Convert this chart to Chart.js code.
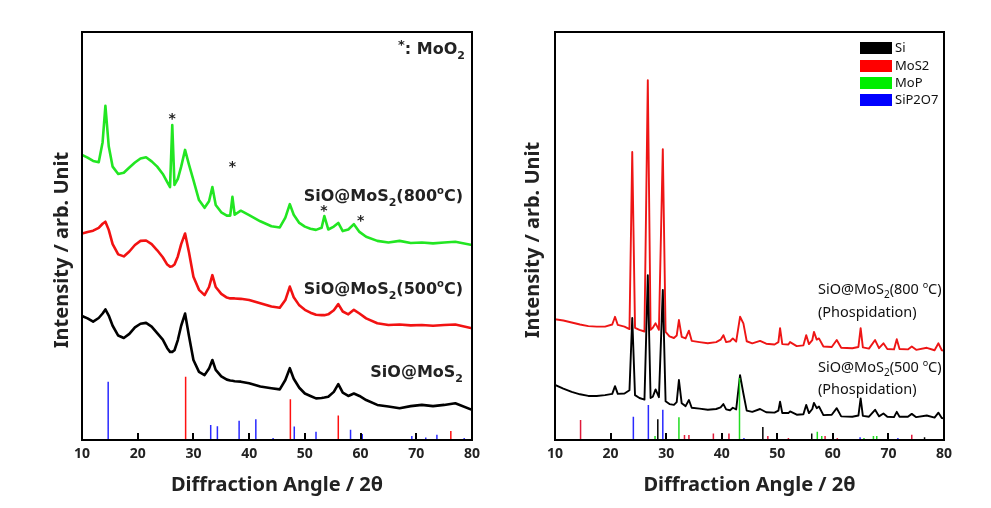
<!DOCTYPE html>
<html><head><meta charset="utf-8">
<script src="https://cdn.jsdelivr.net/npm/chart.js@4.4.1/dist/chart.umd.min.js"></script>
<style>
html,body{margin:0;padding:0;background:#fff;overflow:hidden}
#wrap{position:relative;width:991px;height:508px;background:#fff}
canvas{position:absolute;top:0}
#c1{left:0}
#c2{left:495px}
</style></head><body>
<div id="wrap"><canvas id="c1" width="495" height="508"></canvas><canvas id="c2" width="496" height="508"></canvas></div>
<script>
// ---------- data (2θ in degrees, intensity in arbitrary units 0-100) ----------
const xTickValues = [10, 20, 30, 40, 50, 60, 70, 80];

// Left panel
const leftAngles = [10,11,12,13,13.7,14.2,14.8,15.5,16.5,17.5,18.5,19.5,20.5,21.5,22.5,23.5,24.5,25.3,25.8,26.2,26.6,27.2,27.8,28.5,29.2,30,31,32,32.8,33.4,34,35,36,36.6,37,37.4,38.5,40,42,44,45.5,46.5,47.3,48,49,50,51,52,53,53.5,54.2,55.2,56,56.8,57.8,58.8,59.8,61,63,65,67,69,71,73,75,77,80];
const leftSiOMoS2_800 = [69.9,69.2,68.4,68.1,73,81.9,72,67,65.2,65.5,66.8,68,69,69.3,68.3,67,65.2,63.2,62,77.2,62.5,64,67,71.1,67.5,63.7,58.8,56.9,58.5,62,57.6,55.8,55,55,59.6,55.2,56.2,55.1,53.6,52.4,52.1,54.5,57.8,55.2,53.2,52.3,51.8,51.5,52,54.9,51.6,52.3,53.2,51.2,51.6,52.9,51,49.8,48.8,48.4,48.8,48.3,48.4,48.2,48.4,48.6,47.8];
const leftSiOMoS2_500 = [50.6,51,51.3,52,53,53.5,51.5,48,45.5,45,46.2,47.8,48.8,48.9,48,46.5,44.8,43,42.5,42.6,43,45,48,50.6,46,40,36.8,35.5,37.5,40.4,37.5,35.8,34.9,34.7,34.7,34.7,34.6,34.3,33.5,32.7,32.4,34.3,37.6,35,33,31.9,31.2,30.7,30.6,30.6,30.8,31.8,33.3,31.5,30.8,31.9,31,29.8,28.6,28.2,28.3,28.1,28.2,28,28.2,28.3,27.4];
const leftSiOMoS2 = [30.4,29.8,29,29.9,31,32,30.5,28,25.6,25,26,27.6,28.5,28.7,27.8,26.2,24.6,22.5,21.6,21.6,22,24.5,28,31,25.5,19.6,16.7,15.9,17.5,19.6,17.2,15.6,14.8,14.6,14.5,14.4,14.3,13.9,13.1,12.7,12.4,14.7,17.6,15,12.8,11.4,10.8,10.2,10.3,10.4,10.6,11.8,13.7,11.6,10.8,11.4,10.8,9.8,8.6,8.2,7.8,8.3,8.6,8.3,8.6,9,7.4];
const leftBlueStickPos = [14.7,33.1,34.3,38.2,41.2,44.3,48.1,52.0,58.2,60.3,69.2,71.7,73.7,78.6];
const leftBlueStickInt = [14.3,3.7,3.4,4.7,5.1,0.5,3.3,2.0,2.5,1.5,1.0,0.6,1.3,0.5];
const leftRedStickPos = [28.6,47.4,56.0,76.2];
const leftRedStickInt = [15.5,10.0,6.0,2.2];
const moo2StarAngles = [26.2,37.0,53.4,60.0];
const moo2StarLevels = [79.2,67.2,56.5,54.1];

// Right panel
const rightAngles = [10,11.5,13,14.5,16,17.5,19,20.3,20.8,21.3,22.5,23.4,23.9,24.4,25.2,26.1,26.7,27.2,27.6,28.1,28.7,29.4,29.9,30.6,31.4,31.9,32.3,32.8,33.5,34.1,34.6,36,37.5,39,39.8,40.3,40.8,41.5,42,42.6,43.3,43.9,44.5,45.5,46.9,48,49.5,50.2,50.5,50.9,52,52.3,53.5,54.7,55.2,55.7,56.3,56.6,57.1,57.5,58.3,59.8,60.7,61.5,63.5,64.6,65,65.4,66.5,67.6,68.3,69.1,69.8,71,71.5,72,73.5,74.2,75,76.9,78.3,79,79.6,80];
const rightP800 = [29.6,29.3,28.8,28.3,27.9,27.8,27.8,28.3,30.2,28.2,27.8,27.2,70.6,27.5,27,26.6,88.2,27,27.5,28.6,27,71.3,26.5,25.4,25,25.6,29.4,25.3,24.9,26.8,24.3,24,23.7,24,24.6,25.7,24,24.2,24.9,24.1,30.2,28.6,24.2,23.7,24.3,23.6,23.4,24,27.4,23.5,23.4,24,23,23.2,25.7,23.5,24.5,26.5,24.6,24.9,22.9,22.8,24.5,22.6,22.5,22.8,27.4,22.7,22.4,24.5,22.5,23.7,22.3,22.2,24.7,22.3,22.2,22.9,22.1,22.6,22,23.7,22,21.9];
const rightP500 = [13.5,12.6,11.8,11.2,10.8,10.8,11,11.3,13.2,11.3,11.4,12.2,29.9,11,10.3,9.9,40.4,10.3,10.6,12.4,10.5,36.8,9.5,8.8,8.6,9.3,14.7,9,8.3,9.8,7.9,7.7,7.4,7.6,8,8.8,7.5,7.3,7.9,7.5,15.9,11.4,7.2,6.9,7.6,6.8,6.7,7.2,9.4,6.6,6.6,7,6.2,6.3,8.6,6.6,7.6,9.1,7.8,8.2,6.1,6.2,7.8,5.8,5.7,6,10.2,5.9,5.7,7.4,5.8,6.5,5.7,5.6,6.9,5.7,5.7,6.4,5.6,6,5.5,6.7,5.4,5.3];
const refPhases = ['Si','MoS2','MoP','SiP2O7'];
const siPos = [28.5,47.4,56.2,76.5];
const siInt = [5.1,3.2,1.6,0.7];
const mos2Pos = [14.6,33.3,34.1,38.5,41.3,48.3,52.0,58.6,60.8,74.2];
const mos2Int = [4.9,1.2,1.2,1.6,1.6,1.0,0.5,1.0,0.5,1.3];
const mopPos = [28.0,32.3,43.2,57.2,58.0,65.6,67.3,67.9];
const mopInt = [1.0,5.6,15.2,2.0,1.0,0.5,1.0,1.0];
const sip2o7Pos = [24.1,26.8,29.4,44.0,64.9,71.7];
const sip2o7Int = [5.7,8.6,7.4,0.5,0.7,0.5];

// ---------- helpers ----------
const NOTO = '"Noto Sans", sans-serif';
const DEJA = '"DejaVu Sans", sans-serif';
function curve(xs, ys){ return xs.map((x,i)=>({x:x,y:ys[i]})); }
function sticks(pos, ints){
  const out=[];
  pos.forEach((p,i)=>{ out.push({x:p,y:0},{x:p,y:ints[i]},{x:p,y:null}); });
  return out;
}
function lineDs(data,color,w,order){
  return {type:'line',data:data,borderColor:color,backgroundColor:color,borderWidth:w,pointRadius:0,tension:0,spanGaps:false,borderJoinStyle:'round',order:order};
}
function rich(ctx, runs, x, y, align, family){
  let w=0;
  runs.forEach(r=>{ctx.font=r[2]+' '+r[1]+'px '+family; w+=ctx.measureText(r[0]).width;});
  let cx = align==='right'? x-w : (align==='center'? x-w/2 : x);
  ctx.textAlign='left'; ctx.textBaseline='middle';
  runs.forEach(r=>{ctx.font=r[2]+' '+r[1]+'px '+family; ctx.fillText(r[0],cx,y+r[3]); cx+=ctx.measureText(r[0]).width;});
}
function drawFrame(chart){
  const {ctx, chartArea:a, scales:{x}} = chart;
  ctx.save();
  ctx.strokeStyle='#000'; ctx.lineWidth=2;
  ctx.beginPath();
  xTickValues.forEach(v=>{const px=Math.round(x.getPixelForValue(v)); ctx.moveTo(px,a.bottom); ctx.lineTo(px,a.bottom-7);});
  ctx.stroke();
  ctx.strokeRect(a.left,a.top,a.right-a.left,a.bottom-a.top);
  ctx.fillStyle='#222';
  ctx.font='bold 20px '+NOTO; ctx.textAlign='center'; ctx.textBaseline='middle';
  ctx.fillText('Diffraction Angle / 2θ',(a.left+a.right)/2,485);
  ctx.restore();
}
function yTitle(ctx,x,y){
  ctx.save(); ctx.translate(x,y); ctx.rotate(-Math.PI/2);
  ctx.fillStyle='#222'; ctx.font='bold 20px '+NOTO; ctx.textAlign='center'; ctx.textBaseline='middle';
  ctx.fillText('Intensity / arb. Unit',0,0); ctx.restore();
}
function baseOptions(padL,padR){
  return {
    responsive:false, animation:false,
    layout:{padding:{left:padL,right:padR,top:32,bottom:0}},
    plugins:{legend:{display:false},tooltip:{enabled:false}},
    scales:{
      x:{type:'linear',min:10,max:80,
         afterFit:(s)=>{s.height=68;},
         afterBuildTicks:(s)=>{s.ticks=xTickValues.map(v=>({value:v}));},
         ticks:{color:'#222',padding:6,font:{family:'"Noto Sans"',size:14,weight:'bold'}},
         grid:{display:false,drawTicks:false},border:{display:false}},
      y:{type:'linear',min:0,max:100,display:false}
    }
  };
}

// ---------- left chart ----------
new Chart(document.getElementById('c1'),{
  type:'line',
  data:{datasets:[
    lineDs(curve(leftAngles,leftSiOMoS2_800),'#22e622',2.6,1),
    lineDs(curve(leftAngles,leftSiOMoS2_500),'#f21212',2.6,2),
    lineDs(curve(leftAngles,leftSiOMoS2),'#000000',2.6,3),
    lineDs(sticks(leftBlueStickPos,leftBlueStickInt),'#2a2aff',1.5,4),
    lineDs(sticks(leftRedStickPos,leftRedStickInt),'#ff1010',1.5,5)
  ]},
  options:baseOptions(82,23),
  plugins:[{id:'notesL',afterDraw(chart){
    const {ctx,chartArea:a,scales:{x,y}}=chart;
    drawFrame(chart);
    ctx.save(); ctx.fillStyle='#222';
    yTitle(ctx,a.left-20,250);
    rich(ctx,[['*',13,'bold',-4],[': MoO',16,'bold',0],['2',11,'bold',6]],a.right-7,50,'right',DEJA);
    const r=a.right-9;
    rich(ctx,[['SiO@MoS',16,'bold',0],['2',11,'bold',6],['(800',16,'bold',0],['o',10,'bold',-6],['C)',16,'bold',0]],r,197,'right',DEJA);
    rich(ctx,[['SiO@MoS',16,'bold',0],['2',11,'bold',6],['(500',16,'bold',0],['o',10,'bold',-6],['C)',16,'bold',0]],r,290,'right',DEJA);
    rich(ctx,[['SiO@MoS',16,'bold',0],['2',11,'bold',6]],r,373,'right',DEJA);
    ctx.font='bold 14px '+DEJA; ctx.textAlign='center'; ctx.textBaseline='middle';
    moo2StarAngles.forEach((v,i)=>ctx.fillText('*',x.getPixelForValue(v),y.getPixelForValue(moo2StarLevels[i])+2));
    ctx.restore();
  }}]
});

// ---------- right chart ----------
const refColors=['#000000','#ff0000','#00ee00','#0000ff'];
new Chart(document.getElementById('c2'),{
  type:'line',
  data:{datasets:[
    lineDs(sticks(mopPos,mopInt),'#22dd22',1.5,1),
    lineDs(curve(rightAngles,rightP500),'#000000',1.9,2),
    lineDs(curve(rightAngles,rightP800),'#ee1515',1.9,3),
    lineDs(sticks(siPos,siInt),'#000000',1.5,4),
    lineDs(sticks(mos2Pos,mos2Int),'#e01a3a',1.5,5),
    lineDs(sticks(sip2o7Pos,sip2o7Int),'#2a2aff',1.5,6)
  ]},
  options:baseOptions(60,47),
  plugins:[{id:'notesR',afterDraw(chart){
    const {ctx,chartArea:a}=chart;
    drawFrame(chart);
    ctx.save(); ctx.fillStyle='#222';
    yTitle(ctx,a.left-22,240);
    // legend
    const bx=a.right-84, rows=[48,66,83,100];
    refPhases.forEach((t,i)=>{
      ctx.fillStyle=refColors[i]; ctx.fillRect(bx,rows[i]-6,32,12);
      ctx.fillStyle='#111'; ctx.font='13px '+NOTO; ctx.textAlign='left'; ctx.textBaseline='middle';
      ctx.fillText(t,bx+35,rows[i]);
    });
    const lx=a.right-126;
    rich(ctx,[['SiO@MoS',14.5,'normal',0],['2',10,'normal',5],['(800 ',14.5,'normal',0],['o',9,'normal',-5],['C)',14.5,'normal',0]],lx,290,'left',NOTO);
    rich(ctx,[['(Phospidation)',14.5,'normal',0]],lx,313,'left',NOTO);
    rich(ctx,[['SiO@MoS',14.5,'normal',0],['2',10,'normal',5],['(500 ',14.5,'normal',0],['o',9,'normal',-5],['C)',14.5,'normal',0]],lx,368,'left',NOTO);
    rich(ctx,[['(Phospidation)',14.5,'normal',0]],lx,390,'left',NOTO);
    ctx.restore();
  }}]
});
</script>
</body></html>
